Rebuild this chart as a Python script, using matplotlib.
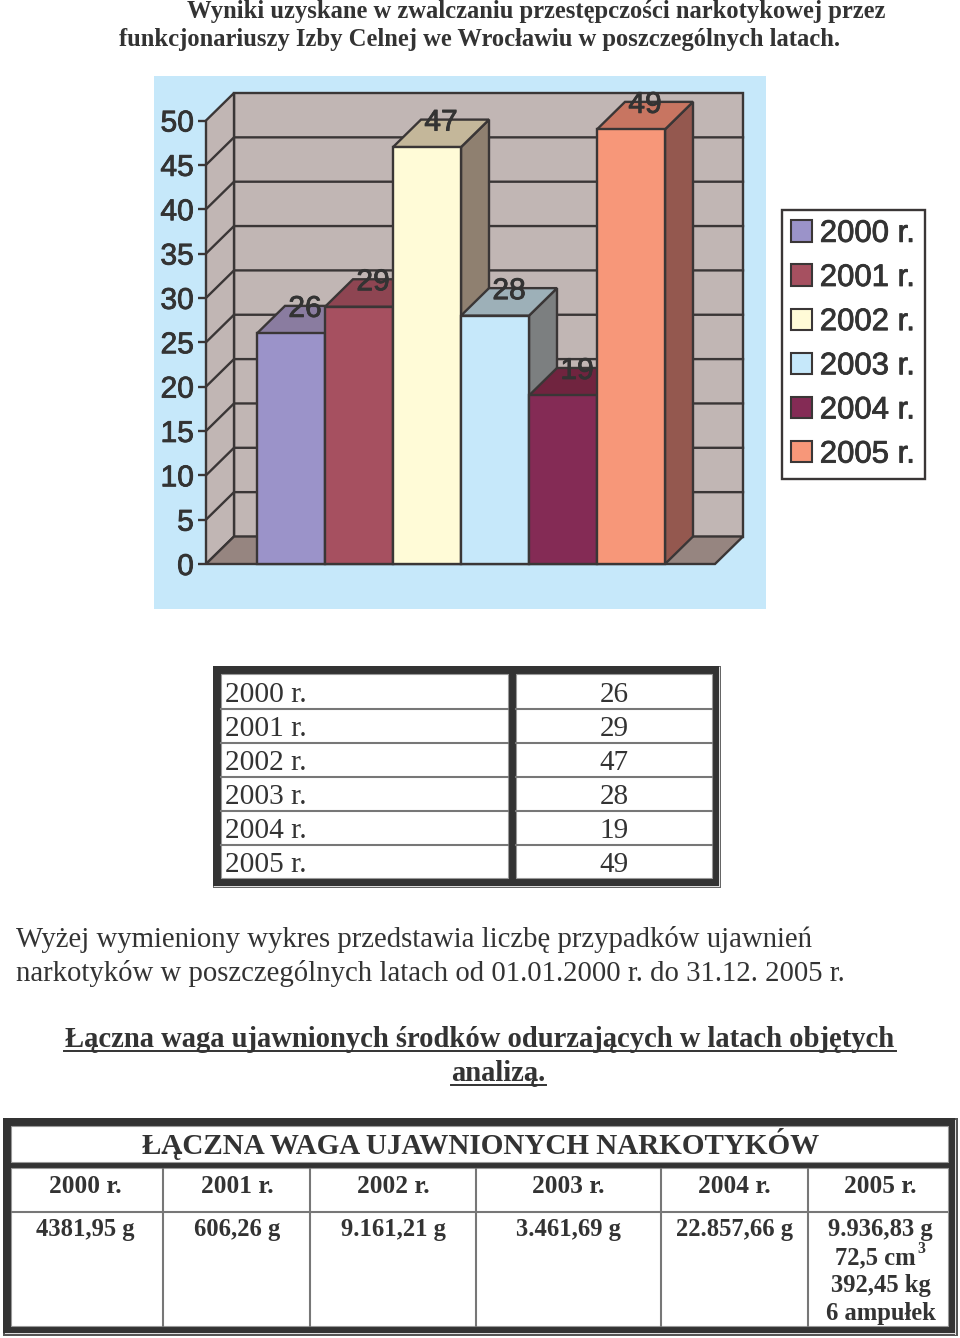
import matplotlib
matplotlib.use('Agg')
import matplotlib.pyplot as plt
import matplotlib.patheffects as pe
from matplotlib.patches import Polygon, Rectangle, Patch

# ---------- data ----------
years = ['2000 r.', '2001 r.', '2002 r.', '2003 r.', '2004 r.', '2005 r.']
counts = [26, 29, 47, 28, 19, 49]
y_ticks = [0, 5, 10, 15, 20, 25, 30, 35, 40, 45, 50]
front_colors = ['#9B93C9', '#A65060', '#FFFBD7', '#C6E8FA', '#842B55', '#F79779']
top_colors = ['#8A7CA0', '#8E4552', '#C4B79A', '#9DB0B8', '#70243F', '#C87561']
side_colors = ['#75698F', '#7A3A46', '#8F8070', '#7C7F80', '#5E1F3A', '#94584F']
heading = ['Wyniki uzyskane w zwalczaniu przestępczości narkotykowej przez',
           'funkcjonariuszy Izby Celnej we Wrocławiu w poszczególnych latach.']
paragraph = ['Wyżej wymieniony wykres przedstawia liczbę przypadków ujawnień',
             'narkotyków w poszczególnych latach od 01.01.2000 r. do 31.12. 2005 r.']
subtitle = ['Łączna waga ujawnionych środków odurzających w latach objętych', 'analizą.']
table_title = 'ŁĄCZNA WAGA UJAWNIONYCH NARKOTYKÓW'
weights = [['4381,95 g'], ['606,26 g'], ['9.161,21 g'], ['3.461,69 g'], ['22.857,66 g'],
           ['9.936,83 g', '72,5 cm', '392,45 kg', '6 ampułek']]

W, H = 960, 1338
INK = '#333333'
LINE = '#3A3636'
SERIF = 'Liberation Serif'
SANS = 'Liberation Sans'
HEAVY = [pe.withStroke(linewidth=0.6, foreground=INK)]

fig = plt.figure(figsize=(W / 100, H / 100), dpi=100, facecolor='white')
page = fig.add_axes([0, 0, 1, 1])
page.set_xlim(0, W)
page.set_ylim(H, 0)
page.axis('off')


def txt(x, y, s, size, bold=False, ha='left', **kw):
    return page.text(x, y, s, family=SERIF, fontsize=size, color=INK, ha=ha, va='baseline',
                     fontweight='bold' if bold else 'normal', **kw)


def rect(x0, y0, x1, y1, fc, ec='none', lw=0, z=1):
    page.add_patch(Rectangle((x0, y0), x1 - x0, y1 - y0, fc=fc, ec=ec, lw=lw, zorder=z))


# ---------- chart panel ----------
rect(154, 76, 766, 609, '#C6E8FA')

PLOT_L, PLOT_R, PLOT_T, PLOT_B = 206, 743, 93, 564
UNIT_Y = 8.87
BAR_W = 68
chart = fig.add_axes([PLOT_L / W, 1 - PLOT_B / H, (PLOT_R - PLOT_L) / W, (PLOT_B - PLOT_T) / H])
chart.patch.set_visible(False)
x_min = (PLOT_L - 257) / BAR_W
x_max = (PLOT_R - 257) / BAR_W
y_max = (PLOT_B - PLOT_T) / UNIT_Y
chart.set_xlim(x_min, x_max)
chart.set_ylim(0, y_max)
dx = 28 / BAR_W
dy = 27.5 / UNIT_Y
lw3d = 1.7


def poly(pts, fc, z=2):
    chart.add_patch(Polygon(pts, closed=True, fc=fc, ec=LINE, lw=lw3d, zorder=z, clip_on=False,
                            joinstyle='miter'))


# walls and floor
poly([(x_min + dx, dy), (x_max, dy), (x_max, y_max), (x_min + dx, y_max)], '#C1B6B4')
poly([(x_min, 0), (x_min + dx, dy), (x_min + dx, y_max), (x_min, y_max - dy)], '#C1B6B4')
poly([(x_min, 0), (x_max - dx, 0), (x_max, dy), (x_min + dx, dy)], '#968580')
for v in y_ticks[1:-1]:
    chart.plot([x_min, x_min + dx, x_max], [v, v + dy, v + dy], color=LINE, lw=lw3d,
               zorder=2.5, clip_on=False, solid_joinstyle='miter')

# bars
for i, v in enumerate(counts):
    z = 3 + i * 0.1
    poly([(i + 1, 0), (i + 1 + dx, dy), (i + 1 + dx, v + dy), (i + 1, v)], side_colors[i], z)
    poly([(i, v), (i + dx, v + dy), (i + 1 + dx, v + dy), (i + 1, v)], top_colors[i], z)
    poly([(i, 0), (i + 1, 0), (i + 1, v), (i, v)], front_colors[i], z)
    chart.text(i + 0.5 + dx / 2, v + dy, str(v), family=SANS, fontsize=21.6, color=INK,
               ha='center', va='center_baseline', zorder=6, clip_on=False, path_effects=HEAVY)

chart.set_xticks([])
chart.set_yticks(y_ticks)
chart.tick_params(axis='y', length=5.8, width=lw3d, color=LINE, pad=3, labelsize=21.6, labelcolor=INK)
for lab in chart.get_yticklabels():
    lab.set_family(SANS)
    lab.set_path_effects(HEAVY)
for s in chart.spines.values():
    s.set_visible(False)

handles = [Patch(fc=c, ec=LINE, lw=1.5) for c in front_colors]
leg = chart.legend(handles, years, loc='upper left', bbox_to_anchor=(781.5 / W, 1 - 209.5 / H),
                   bbox_transform=fig.transFigure, borderaxespad=0, fancybox=False,
                   framealpha=1, facecolor='white', edgecolor=LINE,
                   prop={'family': SANS, 'size': 22.4}, labelcolor=INK,
                   handlelength=0.68, handleheight=0.68, handletextpad=0.25,
                   labelspacing=0.455, borderpad=0.3)
leg.get_frame().set_linewidth(lw3d)
for t in leg.get_texts():
    t.set_path_effects(HEAVY)

# ---------- heading ----------
txt(187, 18, heading[0], 17.72, bold=True)
txt(119, 46, heading[1], 17.72, bold=True)

# ---------- table 1 ----------
rect(213, 666, 721, 888, '#666666')
rect(213, 666, 719, 886, '#333333')
rect(719, 667, 720, 887, '#DDDDDD')
rect(214, 886, 720, 887, '#DDDDDD')
for x0, x1 in [(221, 508), (516, 712)]:
    rect(x0, 674, x1, 878, 'white', ec='#999999', lw=0.8, z=2)
    for k in range(1, 6):
        yy = 675 + 34 * k
        page.plot([x0, x1], [yy, yy], color='#777777', lw=1.5, zorder=3)
for k, (name, v) in enumerate(zip(years, counts)):
    yb = 702 + 34 * k
    txt(225, yb, name, 21.2)
    txt(614, yb, str(v), 21, ha='center')

# ---------- paragraph ----------
txt(16, 947, paragraph[0], 20.66)
txt(16, 981, paragraph[1], 20.68)

# ---------- underlined subtitle ----------
txt(480, 1047, subtitle[0], 20.62, bold=True, ha='center')
txt(498.5, 1081, subtitle[1], 20.62, bold=True, ha='center')
page.plot([64, 896], [1051, 1051], color=INK, lw=1.4)
page.plot([451, 546], [1085, 1085], color=INK, lw=1.4)

# ---------- table 2 ----------
rect(3, 1118, 958, 1336, '#555555')
rect(3, 1118, 955, 1333, '#333333')
rect(955, 1120, 956, 1335, '#DDDDDD')
rect(5, 1333, 956, 1334, '#DDDDDD')
rect(11, 1126, 948, 1162, 'white', ec='#999999', lw=0.8, z=2)
rect(11, 1168, 948, 1326, 'white', ec='#999999', lw=0.8, z=2)
page.plot([12, 947], [1212, 1212], color='#777777', lw=1.5, zorder=3)
for xv in [163, 310, 476, 661, 808]:
    page.plot([xv, xv], [1169, 1326], color='#777777', lw=1.5, zorder=3)
txt(480.5, 1154, table_title, 20.94, bold=True, ha='center')
centers = [85, 237, 393, 568, 734, 880]
for cx, name, vals in zip(centers, years, weights):
    txt(cx + 0.5, 1193, name, 18.3, bold=True, ha='center')
    for j, val in enumerate(vals):
        shift = -4.5 if val.endswith('cm') else 0.5
        txt(cx + shift, 1236 + 28 * j, val, 17.7, bold=True, ha='center')
txt(917, 1253, '3', 11.5, bold=True)

fig.savefig('out.png', dpi=100, facecolor='white')
